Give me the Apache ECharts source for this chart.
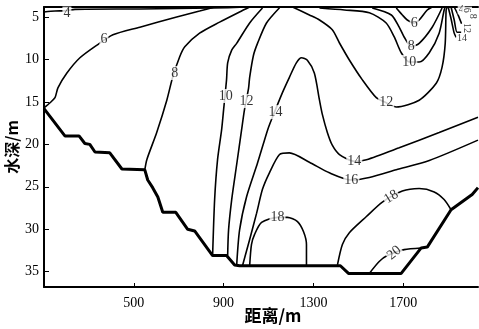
<!DOCTYPE html>
<html>
<head>
<meta charset="utf-8">
<script src="https://cdn.jsdelivr.net/npm/echarts@6/dist/echarts.min.js"></script>
<style>
  html, body { margin: 0; padding: 0; background: #fff; }
  #chart { width: 479px; height: 329px; }
</style>
</head>
<body>
<div id="chart"></div>
<script>
// 距离 (m), 水深 (m)
const xTicks = [500, 900, 1300, 1700];
const depthTicks = [5, 10, 15, 20, 25, 30, 35];

// 河床断面
const bottom = [[100,15.8],[193,19],[256,19],[282,19.9],[304,20],[327,20.9],[393,21],[447,22.9],[549,23],
  [562,24.2],[584,25.1],[607,26.2],[629,28],[687,28],[740,30],[771,30.2],[851,33.1],[913,33.1],[949,34.2],
  [971,34.3],[1420,34.3],[1456,35.2],[1691,35.2],[1780,32.2],[1807,32.1],[1913,27.7],[2007,25.9],[2033,25.1]];

// 等值线
const c4 = [[100,4.4],[149,4.3],[200,4.25],[238,4.1],[527,4.05],[851,3.94],[1000,3.82]];
const c6 = [[100,15.7],[127,15.1],[149,14.5],[162,13.35],[202,11.6],[260,9.8],[336,8.3],[407,7.1],[527,6.2],[691,5.0],[793,4.3],[860,3.82]];
const c8 = [[549,23],[558,21.8],[602,18.6],[647,14.8],[673,12.1],[704,9.7],[727,8.5],[793,6.9],[882,5.6],[971,4.4],[1016,3.82]];
const c10 = [[851,33.1],[860,26.5],[873,21.8],[891,18.3],[900,15.9],[913,12.4],[918,10.4],[936,8.9],[958,8.1],[1016,5.7],[1073,3.94]];
const c12a = [[918,33.1],[922,30.1],[936,26.5],[958,22.4],[980,18.3],[993,15.9],[1011,13.4],[1016,12.1],[1033,9.5],[1051,8.1],[1091,5.7],[1149,3.9]];
const c14a = [[958,34.3],[971,30.1],[1002,26.2],[1051,22.2],[1096,18.3],[1113,17.1],[1162,13.9],[1193,12.1],[1224,10.4],[1247,9.8],
  [1273,10.1],[1304,11.6],[1327,14.8],[1340,16.5],[1362,18.6],[1384,20.1],[1416,21.2],[1482,22.0],[1536,21.8],[1682,20.4],[1860,18.6],[2033,16.8]];
const c16 = [[984,34.3],[1016,31.2],[1047,28.1],[1073,25.3],[1104,23.35],[1149,21.2],[1193,21.0],[1282,22.1],[1371,23.35],[1469,24.2],
  [1549,23.9],[1669,23.0],[1816,21.9],[2033,19.5]];
const c18a = [[1016,34.3],[1024,31.8],[1038,30.6],[1069,29.2],[1140,28.6],[1184,28.6],[1229,29.1],[1256,30.3],[1269,31.8],[1269,34.3]];
const c18b = [[1407,34.2],[1429,31.8],[1460,30.4],[1536,28.5],[1607,26.8],[1696,25.5],[1771,25.2],[1838,25.6],[1882,26.5],[1913,27.7]];
const c20 = [[1549,35.2],[1593,33.8],[1629,33.1],[1704,32.4],[1780,32.2]];
const c12b = [[1207,3.82],[1282,4.76],[1327,5.35],[1384,6.5],[1416,8.06],[1460,10.06],[1518,12.4],[1580,14.5],[1624,15.1],
  [1669,15.6],[1771,14.8],[1847,12.8],[1873,10.9],[1887,8.1],[1891,4.2],[1896,3.82]];
const c10b = [[1327,3.94],[1438,4.17],[1549,4.5],[1624,5.7],[1660,7.35],[1691,9.2],[1727,10.3],[1771,10.3],[1816,9.2],[1860,6.9],[1882,4.2],[1887,3.82]];
const c8b = [[1562,3.94],[1647,4.76],[1682,6.2],[1704,7.35],[1736,8.5],[1771,8.1],[1829,6.2],[1873,3.94]];
const c6b = [[1669,3.94],[1696,4.76],[1718,5.35],[1749,5.7],[1771,5.35],[1807,4.17],[1829,3.82]];
const c14b = [[1900,3.82],[1913,5.2],[1927,6.9],[1936,7.4]];
const c12c = [[1913,3.82],[1927,5.35],[1940,6.8],[1958,6.8]];
const c10c = [[1927,3.82],[1945,4.8],[1960,5.8]];

const contours = [c4, c6, c8, c10, c12a, c14a, c16, c18a, c18b, c20, c12b, c10b, c8b, c6b, c14b, c12c, c10c];

// 等值线标注 [距离, 水深, 文字]
const contourLabels = [
  [202, 4.6, '4'], [367, 7.6, '6'], [682, 11.6, '8'], [909, 14.3, '10'], [1002, 14.9, '12'],
  [1131, 16.2, '14'], [1624, 15.1, '12'], [1482, 22.0, '14'], [1469, 24.2, '16'], [1140, 28.6, '18'],
  [1647, 26.2, '18'], [1660, 32.8, '20'], [1749, 5.7, '6'], [1736, 8.5, '8'], [1727, 10.3, '10'],
  [1958, 4.1, '4'], [1984, 4.2, '6'], [2008, 4.9, '8'], [1984, 6.3, '12'], [1962, 7.5, '14']
];
const labelRotate = { 10: 32, 11: 40, 16: -90, 17: -90, 18: -90 };
const smallLabels = [15, 16, 17, 18, 19];

const chart = echarts.init(document.getElementById('chart'));
const serif = '"Liberation Serif", "DejaVu Serif", serif';
const cjk = '"Noto Sans CJK SC", sans-serif';

const lineSeries = contours.map(c => ({
  type: 'line',
  data: c,
  showSymbol: false,
  smooth: 0.25,
  lineStyle: { color: '#000', width: 1.6 },
  z: 2,
  silent: true
}));

chart.setOption({
  animation: false,
  grid: { left: 44, right: 1, top: 7, bottom: 42, outerBoundsMode: 'none' },
  xAxis: [{
    type: 'value',
    min: 100,
    max: 2033,
    name: '距离/m',
    nameLocation: 'middle',
    nameGap: 20,
    nameMoveOverlap: false,
    nameTextStyle: { fontFamily: cjk, fontSize: 17, fontWeight: 'bold', color: '#000', padding: [0, 0, 0, 24] },
    axisLine: { lineStyle: { color: '#000', width: 2 } },
    axisTick: { inside: true, length: 4, customValues: xTicks, lineStyle: { color: '#000' } },
    axisLabel: { customValues: xTicks, formatter: v => String(v), fontFamily: serif, fontSize: 14, color: '#000', margin: 9 },
    splitLine: { show: false }
  }, {
    type: 'value',
    position: 'top',
    min: 100,
    max: 2033,
    axisLine: { show: true, lineStyle: { color: '#000', width: 2 } },
    axisTick: { show: false },
    axisLabel: { show: false },
    splitLine: { show: false }
  }],
  yAxis: {
    type: 'value',
    inverse: true,
    min: 3.82,
    max: 36.8,
    name: '水深/m',
    nameLocation: 'middle',
    nameGap: 24,
    nameMoveOverlap: false,
    nameRotate: 90,
    nameTextStyle: { fontFamily: cjk, fontSize: 16, fontWeight: 'bold', color: '#000' },
    axisLine: { show: true, lineStyle: { color: '#000', width: 2 } },
    axisTick: { show: true, inside: true, length: 5, customValues: depthTicks, lineStyle: { color: '#000' } },
    axisLabel: { customValues: depthTicks, fontFamily: serif, fontSize: 14, color: '#000', margin: 5 },
    splitLine: { show: false }
  },
  series: [
    ...lineSeries,
    {
      type: 'line',
      data: bottom,
      showSymbol: false,
      lineStyle: { color: '#000', width: 3 },
      z: 4,
      silent: true
    },
    {
      type: 'scatter',
      symbolSize: 0,
      z: 6,
      silent: true,
      data: contourLabels.map((l, i) => ({
        value: [l[0], l[1]],
        name: l[2],
        label: {
          rotate: labelRotate[i] || 0,
          fontSize: smallLabels.includes(i) ? 10 : 14
        }
      })),
      label: {
        show: true,
        position: 'inside',
        formatter: p => p.name,
        fontFamily: serif,
        color: '#000',
        backgroundColor: '#fff',
        padding: [0, 1]
      }
    }
  ]
});
</script>
</body>
</html>
